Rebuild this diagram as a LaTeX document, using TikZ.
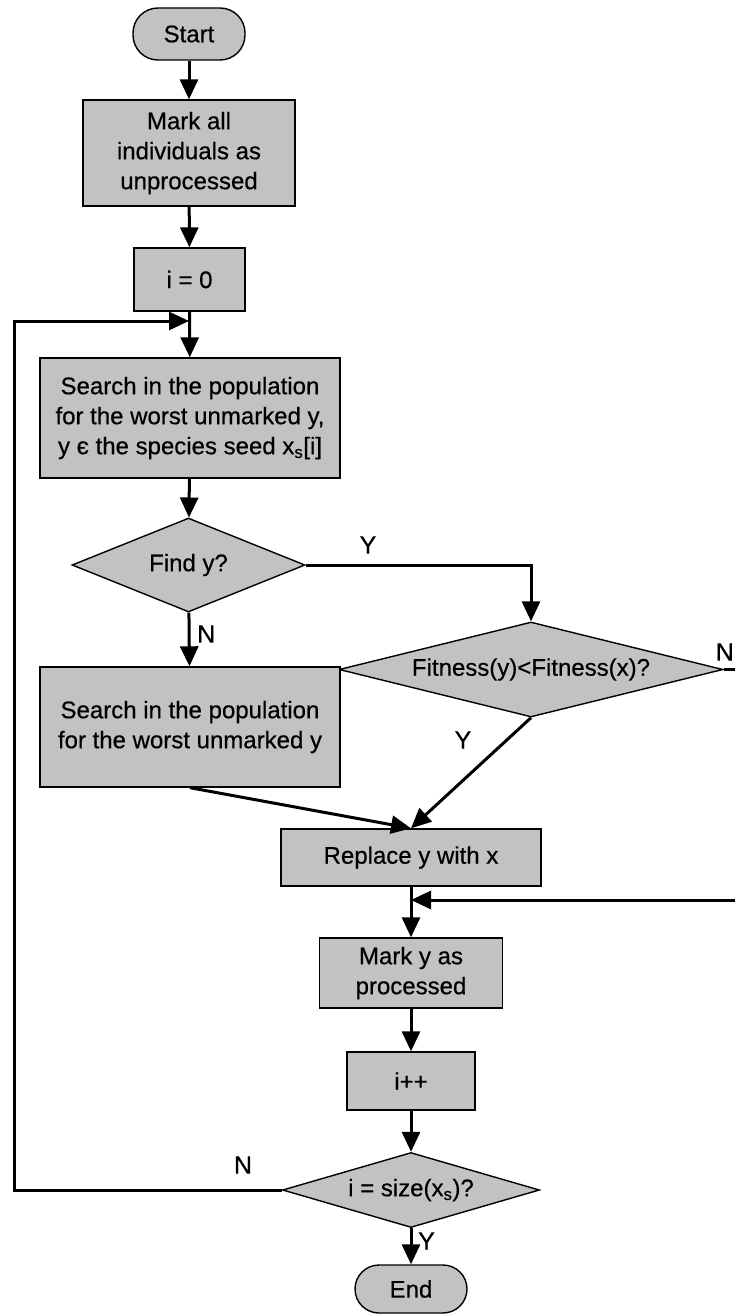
\documentclass[tikz,border=0pt]{standalone}
\usepackage{fontspec}
\setmainfont{Liberation Sans}[UprightFeatures={FakeBold=0.5}]
\usetikzlibrary{shapes.geometric,arrows.meta}
\begin{document}
\begin{tikzpicture}[x=1pt,y=-1pt,
 box/.style={draw=black,line width=1.4pt,fill=black!24,rectangle,inner sep=0pt,align=center,font=\fontsize{24}{30}\selectfont},
 term/.style={box,rounded corners=25pt},
 dec/.style={draw=black,line width=1.4pt,fill=black!24,diamond,inner sep=0pt,align=center,font=\fontsize{24}{30}\selectfont},
 flow/.style={line width=3pt,-{Triangle[length=20pt,width=18pt]}},
 lbl/.style={font=\fontsize{25}{30}\selectfont,inner sep=0pt}]
\useasboundingbox (0,0) rectangle (735,1314);

\node[term,minimum width=112pt,minimum height=52pt] (start) at (189,34) {Start};
\node[box,minimum width=212pt,minimum height=106pt] (mark) at (189,153) {Mark all\\individuals as\\unprocessed};
\node[box,minimum width=111pt,minimum height=63pt] (init) at (189.5,279.5) {i = 0};
\node[box,minimum width=300pt,minimum height=120pt] (s1) at (190,418) {Search in the population\\for the worst unmarked y,\\y є the species seed x\textsubscript{s}[i]};
\node[dec,minimum width=233pt,minimum height=94pt,aspect=2.5] (find) at (188.5,565) {Find y?};
\node[dec,minimum width=384pt,minimum height=95pt,aspect=4] (fit) at (531,669.5) {Fitness(y)<Fitness(x)?};
\node[box,minimum width=300pt,minimum height=120pt] (s2) at (190,727) {Search in the population\\for the worst unmarked y};
\node[box,minimum width=260pt,minimum height=57pt] (rep) at (411,857.5) {Replace y with x};
\node[box,minimum width=183pt,minimum height=70pt] (marky) at (411,973) {Mark y as\\processed};
\node[box,minimum width=128pt,minimum height=58pt] (inc) at (411,1081) {i++};
\node[dec,minimum width=257pt,minimum height=75pt,aspect=3.4] (test) at (411,1190) {i = size(x\textsubscript{s})?};
\node[term,minimum width=112pt,minimum height=48pt,rounded corners=24pt] (end) at (411,1289) {End};

\coordinate (j1) at (189,321);
\coordinate (j2) at (411,900);

\draw[flow] (start) -- (mark);
\draw[flow] (mark) -- (init);
\draw[flow] (init) -- (s1);
\draw[flow] (s1) -- (find);
\draw[flow] (find.east) -- (find.east -| fit.north) -- (fit.north);
\draw[flow] (find) -- (s2);
\draw[flow] (s2.south) -- (rep.north);
\draw[flow] (fit.south) -- (rep.north);
\draw[flow] (fit.east) -- (738,669.5) -- (738,900) -- (j2);
\draw[flow] (rep) -- (marky);
\draw[flow] (marky) -- (inc);
\draw[flow] (inc) -- (test);
\draw[flow] (test) -- (end);
\draw[flow] (test.west) -- (14,1190) -- (14,321) -- (j1);

\node[lbl] (ly1) at (368,545) {Y};
\node[lbl,anchor=west] (ln1) at (197,634) {N};
\node[lbl] (ly2) at (463,740) {Y};
\node[lbl,anchor=east] (ln2) at (734,652) {N};
\node[lbl] (ln3) at (243,1165) {N};
\node[lbl,anchor=west] (ly3) at (418,1241) {Y};
\end{tikzpicture}
\end{document}
